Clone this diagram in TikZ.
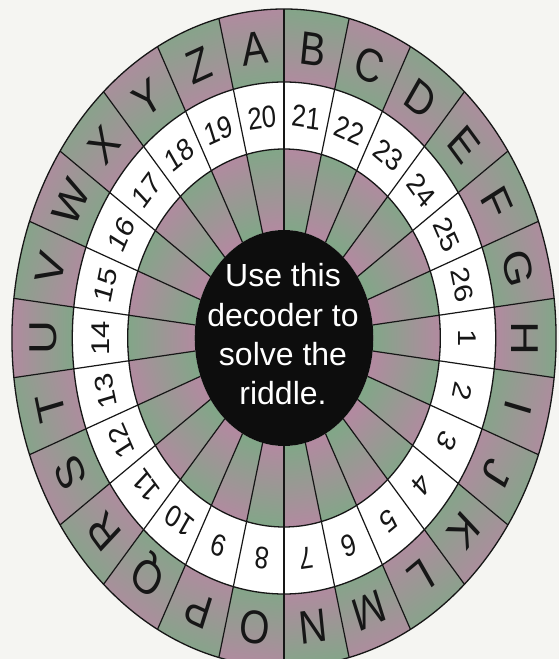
\documentclass[tikz,border=0pt]{standalone}
\usepackage{fontspec}
\setmainfont{Liberation Sans}
\definecolor{paper}{RGB}{245,245,242}
\definecolor{grn}{RGB}{130,166,136}
\definecolor{pnk}{RGB}{178,138,160}
\definecolor{ink}{RGB}{22,22,22}
\tikzset{
  lettr/.style={anchor=base, inner sep=0pt, transform shape, text=ink,
    font=\fontsize{47}{47}\selectfont},
  numtxt/.style={anchor=base, inner sep=0pt, transform shape, text=ink,
    font=\fontsize{31}{31}\selectfont},
  spoke/.style={draw=ink, line width=1.2pt},
  ringline/.style={draw=ink, line width=1.3pt},
}
\begin{document}
\begin{tikzpicture}[x=1pt,y=1pt]
\useasboundingbox (0,0) rectangle (559,659);
\clip (0,0) rectangle (559,659);
\fill[paper] (0,0) rectangle (559,659);
\begin{scope}[shift={(284,321)}, xscale=0.827]
  % outer letter ring sectors
  \foreach \k in {0,...,25} {
    \pgfmathsetmacro\aa{(\k+0.5)*360/26}
    \pgfmathsetmacro\ab{(\k+1.5)*360/26}
    \pgfmathsetmacro\am{(\k+1)*360/26-90}
    \pgfmathtruncatemacro\myparity{mod(\k,2)}
    \ifnum\myparity=0
      \shade[top color=pnk, bottom color=grn, shading angle=\am]
        (\aa:256) -- (\aa:329) arc[start angle=\aa, end angle=\ab, radius=329]
        -- (\ab:256) arc[start angle=\ab, end angle=\aa, radius=256] -- cycle;
      \shade[top color=grn, bottom color=pnk, shading angle=\am]
        (\aa:108) -- (\aa:189) arc[start angle=\aa, end angle=\ab, radius=189]
        -- (\ab:108) arc[start angle=\ab, end angle=\aa, radius=108] -- cycle;
    \else
      \shade[top color=grn, bottom color=pnk, shading angle=\am]
        (\aa:256) -- (\aa:329) arc[start angle=\aa, end angle=\ab, radius=329]
        -- (\ab:256) arc[start angle=\ab, end angle=\aa, radius=256] -- cycle;
      \shade[top color=pnk, bottom color=grn, shading angle=\am]
        (\aa:108) -- (\aa:189) arc[start angle=\aa, end angle=\ab, radius=189]
        -- (\ab:108) arc[start angle=\ab, end angle=\aa, radius=108] -- cycle;
    \fi
  }
  % white number ring
  \fill[white, even odd rule] (0,0) circle (256) (0,0) circle (189);
  % spokes
  \foreach \k in {0,...,25} {
    \pgfmathsetmacro\aa{(\k+0.5)*360/26}
    \draw[spoke] (\aa:108) -- (\aa:329);
  }
  \draw[ringline] (0,0) circle (329);
  \draw[ringline] (0,0) circle (256);
  \draw[ringline] (0,0) circle (189);
  % black centre
  \fill[black!95] (0,0) circle (108);
  % letters
  \foreach \L [count=\i from 0] in {A,B,C,D,E,F,G,H,I,J,K,L,M,N,O,P,Q,R,S,T,U,V,W,X,Y,Z} {
    \pgfmathsetmacro\ang{(7-\i)*360/26}
    \node[lettr, rotate=\ang-90] (L\i) at (\ang:275) {\L};
  }
  % numbers
  \foreach \n in {1,...,26} {
    \pgfmathsetmacro\ang{-(\n-1)*360/26}
    \node[numtxt, rotate=\ang-90] (N\n) at (\ang:211.5) {\n};
  }
\end{scope}
\node[align=center, text=white, inner sep=0pt,
  font=\fontsize{32}{39.3}\selectfont] (msg) at (283,324.5)
  {Use this\\decoder to\\solve the\\riddle.};
\end{tikzpicture}
\end{document}
